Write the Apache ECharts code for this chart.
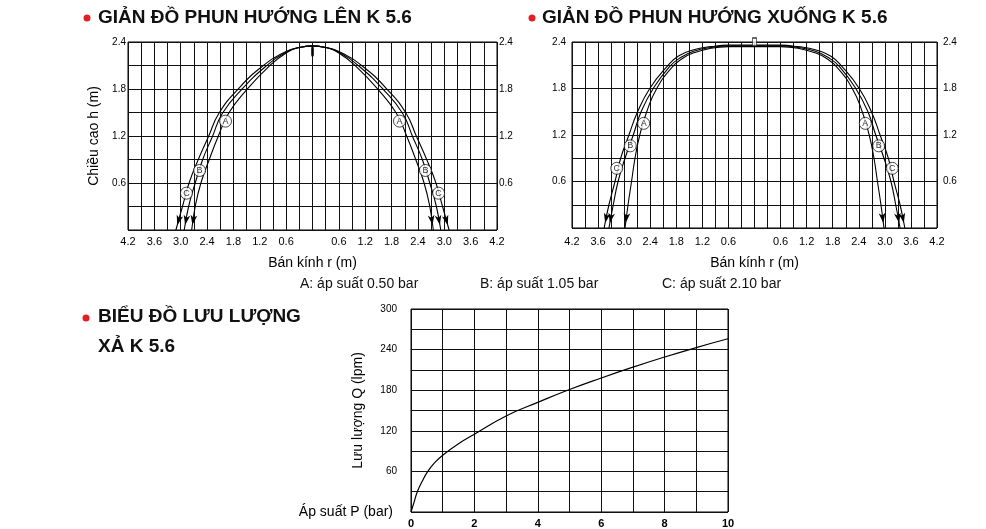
<!DOCTYPE html>
<html><head><meta charset="utf-8">
<script src="https://cdn.jsdelivr.net/npm/echarts@6/dist/echarts.min.js"></script>
<style>html,body{margin:0;padding:0;background:#fff}#c{width:986px;height:529px}</style>
</head><body><div id="c"></div>
<script>
// ---- Upward spray: [radius r (m), height h (m)] from centre outward ----
const upA = [[0,2.35],[0.3,2.33],[0.6,2.26],[0.99,2.09],[1.50,1.79],[1.91,1.49],[2.15,1.19],[2.35,0.90],[2.54,0.60],[2.67,0.30],[2.75,0]];
const upB = [[0,2.35],[0.3,2.33],[0.6,2.27],[1.06,2.09],[1.62,1.79],[2.05,1.49],[2.28,1.19],[2.50,0.90],[2.67,0.60],[2.82,0.30],[2.92,0]];
const upC = [[0,2.35],[0.3,2.33],[0.6,2.28],[1.14,2.09],[1.71,1.79],[2.13,1.49],[2.37,1.19],[2.60,0.90],[2.81,0.60],[2.96,0.30],[3.11,0]];
const upLabels = [['A',1.98,1.39],['B',2.57,0.76],['C',2.87,0.47]];
const upNozzle = [[0,2.28]];

// ---- Downward spray ----
const downA = [[0,2.34],[0.6,2.34],[1.0,2.32],[1.4,2.26],[1.65,2.19],[1.89,2.08],[2.25,1.80],[2.48,1.50],[2.64,1.20],[2.75,0.90],[2.83,0.60],[2.91,0.30],[2.98,0]];
const downB = [[0,2.35],[0.6,2.35],[1.0,2.33],[1.4,2.28],[1.70,2.20],[1.96,2.08],[2.33,1.80],[2.61,1.50],[2.79,1.20],[2.98,0.90],[3.14,0.60],[3.25,0.30],[3.35,0]];
const downC = [[0,2.36],[0.6,2.36],[1.0,2.34],[1.4,2.30],[1.75,2.22],[2.02,2.08],[2.41,1.80],[2.69,1.50],[2.89,1.20],[3.08,0.90],[3.21,0.60],[3.35,0.30],[3.46,0]];
const downLabels = [['A',2.55,1.35],['B',2.86,1.06],['C',3.17,0.77]];
const downNozzle = [[0,2.4]];

// ---- Flow chart ----
const pressure = [0,0.1,0.2,0.35,0.53,0.75,1,1.5,2,3,4,5,6,7,8,9,10];
const flow     = [0,15,30,45,60,73,84,101,115,142,162,181,198,214,229,243,256];

// ---- Text ----
const title1 = 'GIẢN ĐỒ PHUN HƯỚNG LÊN K 5.6';
const title2 = 'GIẢN ĐỒ PHUN HƯỚNG XUỐNG K 5.6';
const title3a = 'BIỂU ĐỒ LƯU LƯỢNG';
const title3b = 'XẢ K 5.6';
const legendTexts = ['A: áp suất 0.50 bar','B: áp suất 1.05 bar','C: áp suất 2.10 bar'];

const FONT = '"Liberation Sans", Arial, sans-serif';
const chart = echarts.init(document.getElementById('c'));

function mirror(half){
  const left = half.slice(1).reverse().map(p=>[-p[0],p[1]]);
  return left.concat(half.map(p=>[p[0],p[1]]));
}
function mirrorLabels(l){
  const out=[];
  l.forEach(a=>{out.push([-a[1],a[2],a[0]]);out.push([a[1],a[2],a[0]]);});
  return out;
}
const GL = {color:'#111', width:1};
function halfFmt(abs){ return v=>{const k=Math.round(v/0.3); if(k===0||k%2) return ''; return (abs?Math.abs(v):v).toFixed(1);}; }
function sprayX(g, margin, gap){
  return {type:'value', gridIndex:g, min:-4.2, max:4.2, interval:0.3,
    axisLine:{show:false}, axisTick:{show:false},
    splitLine:{show:true, lineStyle:GL},
    axisLabel:{margin:margin, fontSize:11, color:'#000', fontFamily:FONT, formatter:halfFmt(true)},
    name:'Bán kính r (m)', nameLocation:'middle', nameGap:gap,
    nameTextStyle:{fontSize:14, color:'#000', fontFamily:FONT}};
}
function sprayY(g, pos, margin, name){
  const o = {type:'value', gridIndex:g, position:pos, min:0, max:2.4, interval:0.3,
    axisLine:{show:false}, axisTick:{show:false},
    splitLine:{show:pos==='left', lineStyle:GL},
    axisLabel:{margin:margin, fontSize:10, color:'#000', fontFamily:FONT, formatter:halfFmt(false)}};
  if(name){ o.name=name; o.nameLocation='middle'; o.nameGap=27; o.nameTextStyle={fontSize:14,color:'#000',fontFamily:FONT}; }
  return o;
}
const curves = [
  {id:'uA', d:mirror(upA), x:0, y:0},
  {id:'uB', d:mirror(upB), x:0, y:0},
  {id:'uC', d:mirror(upC), x:0, y:0},
  {id:'dA', d:mirror(downA), x:1, y:2},
  {id:'dB', d:mirror(downB), x:1, y:2},
  {id:'dC', d:mirror(downC), x:1, y:2}
];
const series = curves.map(c=>({
  id:c.id, type:'line', xAxisIndex:c.x, yAxisIndex:c.y, data:c.d,
  smooth:0.5, symbol:'none', showSymbol:true, silent:true,
  lineStyle:{color:'#000', width:1.1}, itemStyle:{color:'#000'}, z:3, animation:false
}));
function labelSeries(data, xi, yi){
  return {type:'scatter', xAxisIndex:xi, yAxisIndex:yi, data:data, symbol:'circle', symbolSize:12,
    itemStyle:{color:'#fff', borderColor:'#000', borderWidth:0.9}, z:5, animation:false,
    label:{show:true, position:'inside', formatter:p=>p.data[2], fontSize:9, color:'#000', fontFamily:FONT}};
}
series.push(labelSeries(mirrorLabels(upLabels),0,0));
series.push(labelSeries(mirrorLabels(downLabels),1,2));
series.push({type:'scatter', xAxisIndex:0, yAxisIndex:0, data:upNozzle, symbol:'roundRect', symbolSize:[3,10], itemStyle:{color:'#000'}, z:6, animation:false});
series.push({type:'scatter', xAxisIndex:1, yAxisIndex:2, data:downNozzle, symbol:'rect', symbolSize:[4,8], itemStyle:{color:'#fff', borderColor:'#000', borderWidth:1}, z:6, animation:false});
series.push({type:'line', xAxisIndex:2, yAxisIndex:4, data:pressure.map((p,i)=>[p,flow[i]]), smooth:0.5, symbol:'none', lineStyle:{color:'#000', width:1.2}, z:3, animation:false});

const txt = (x,y,t,font)=>({type:'text', x:x, y:y, style:{text:t, font:font, fill:'#111', verticalAlign:'middle'}});
const dot = (x,y)=>({type:'circle', shape:{cx:x, cy:y, r:3.5}, style:{fill:'#e31e24'}});

const option = {
  backgroundColor:'#fff',
  animation:false,
  grid:[
    {left:128, top:42, width:369, height:188, show:true, borderColor:'#000', borderWidth:1, backgroundColor:'transparent'},
    {left:572, top:42, width:365, height:186, show:true, borderColor:'#000', borderWidth:1, backgroundColor:'transparent'},
    {left:411, top:309, width:317, height:203, show:true, borderColor:'#000', borderWidth:1, backgroundColor:'transparent'}
  ],
  xAxis:[
    sprayX(0,6,26),
    sprayX(1,8,28),
    {type:'value', gridIndex:2, min:0, max:10, interval:1,
      axisLine:{show:false}, axisTick:{show:false}, splitLine:{show:true, lineStyle:GL},
      axisLabel:{margin:6, fontSize:11, fontWeight:'bold', color:'#000', fontFamily:FONT, formatter:v=>(v%2===0?String(v):'')},
      name:'Áp suất P (bar)', nameLocation:'start', nameGap:18,
      nameTextStyle:{fontSize:14, color:'#000', fontFamily:FONT, padding:[0,0,16,0]}}
  ],
  yAxis:[
    sprayY(0,'left',2,'Chiều cao h (m)'),
    sprayY(0,'right',2),
    sprayY(1,'left',6),
    sprayY(1,'right',6),
    {type:'value', gridIndex:2, min:0, max:300, interval:30,
      axisLine:{show:false}, axisTick:{show:false}, splitLine:{show:true, lineStyle:GL},
      axisLabel:{margin:14, fontSize:10, color:'#000', fontFamily:FONT, formatter:v=>(v%60===0&&v!==0?String(v):'')},
      name:'Lưu lượng Q (lpm)', nameLocation:'middle', nameGap:46,
      nameTextStyle:{fontSize:14, color:'#000', fontFamily:FONT}}
  ],
  series:series,
  graphic:[
    dot(87,18), txt(98,18,title1,'bold 19px "Liberation Sans", Arial'),
    dot(532,18), txt(542,18,title2,'bold 19px "Liberation Sans", Arial'),
    dot(86,318), txt(98,317,title3a,'bold 19px "Liberation Sans", Arial'),
    txt(98,347,title3b,'bold 19px "Liberation Sans", Arial'),
    txt(300,284,legendTexts[0],'14px "Liberation Sans", Arial'),
    txt(480,284,legendTexts[1],'14px "Liberation Sans", Arial'),
    txt(662,284,legendTexts[2],'14px "Liberation Sans", Arial')
  ]
};
chart.setOption(option);

// arrowheads at landing points, oriented along the final segment
const AL = 10;
const upd = curves.map(c=>{
  const d = c.d, n = d.length;
  const data = d.map(p=>p.slice());
  const ends = [[1,0],[n-2,n-1]];
  ends.forEach(([pi,ei])=>{
    const p = chart.convertToPixel({xAxisIndex:c.x, yAxisIndex:c.y}, d[pi]);
    const e = chart.convertToPixel({xAxisIndex:c.x, yAxisIndex:c.y}, d[ei]);
    const dx = e[0]-p[0], dy = e[1]-p[1], len = Math.hypot(dx,dy);
    const phi = Math.atan2(-dy, dx)*180/Math.PI;
    data[ei] = {value:d[ei], symbol:'arrow', symbolSize:[5,AL], symbolRotate:phi-90,
      symbolOffset:[-AL/2*dx/len, -AL/2*dy/len], itemStyle:{color:'#000'}};
  });
  return {id:c.id, data:data};
});
chart.setOption({series:upd});
</script></body></html>
